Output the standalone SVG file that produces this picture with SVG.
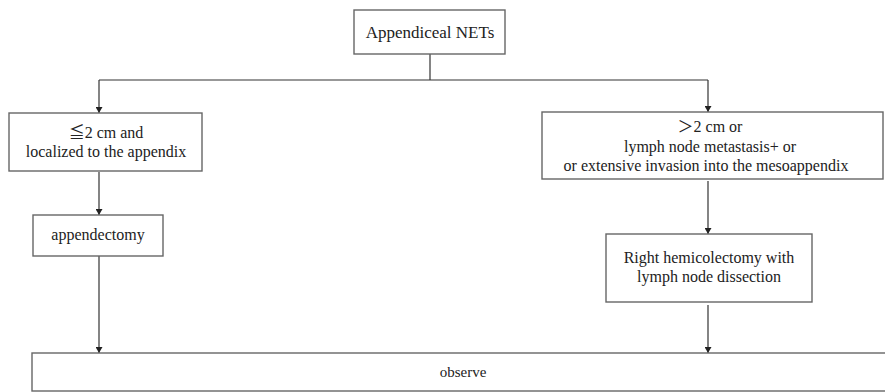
<svg xmlns="http://www.w3.org/2000/svg" width="885" height="392" viewBox="0 0 885 392">
<style>
.box{fill:#fff;stroke:#666;stroke-width:1.4}
.t{font-family:"Liberation Serif",serif;font-size:16px;fill:#222;text-anchor:middle}
.sym{font-family:"Noto Sans CJK JP","DejaVu Serif",sans-serif}
.c{fill:none;stroke:#333;stroke-width:1.2}
</style>
<defs>
<marker id="ah" markerWidth="6" markerHeight="7" refX="6" refY="3.5" orient="auto" markerUnits="userSpaceOnUse">
<path d="M0,0 L6,3.5 L0,7 Z" fill="#222"/>
</marker>
</defs>
<rect width="885" height="392" fill="#fff"/>
<g id="connectors">
<path class="c" d="M430,54 V80"/>
<path class="c" d="M99,80 H708"/>
<path class="c" d="M99,80 V113" marker-end="url(#ah)"/>
<path class="c" d="M708,80 V112" marker-end="url(#ah)"/>
<path class="c" d="M99,172 V215" marker-end="url(#ah)"/>
<path class="c" d="M99,256 V353" marker-end="url(#ah)"/>
<path class="c" d="M708,181 V234" marker-end="url(#ah)"/>
<path class="c" d="M708,305 V353" marker-end="url(#ah)"/>
</g>
<g id="node-top">
<rect class="box" x="354" y="10" width="151" height="44"/>
<text class="t" x="430" y="38" style="font-size:17px">Appendiceal NETs</text>
</g>
<g id="node-left">
<rect class="box" x="9" y="113" width="193" height="58"/>
<text class="t" x="106" y="138"><tspan class="sym">≦</tspan><tspan>2 cm and</tspan></text>
<text class="t" x="106" y="157">localized to the appendix</text>
</g>
<g id="node-right">
<rect class="box" x="542" y="112" width="341" height="67"/>
<text class="t" x="710" y="132"><tspan class="sym">＞</tspan><tspan>2 cm or</tspan></text>
<text class="t" x="710" y="152">lymph node metastasis+ or</text>
<text class="t" x="706" y="171">or extensive invasion into the mesoappendix</text>
</g>
<g id="node-appendectomy">
<rect class="box" x="33" y="215" width="130" height="41"/>
<text class="t" x="98" y="240">appendectomy</text>
</g>
<g id="node-hemicolectomy">
<rect class="box" x="606" y="234" width="206" height="68"/>
<text class="t" x="709" y="263">Right hemicolectomy with</text>
<text class="t" x="709" y="282">lymph node dissection</text>
</g>
<g id="node-observe">
<rect class="box" x="32" y="353" width="860" height="38"/>
<text class="t" x="463" y="377" style="font-size:15px">observe</text>
</g>
</svg>
